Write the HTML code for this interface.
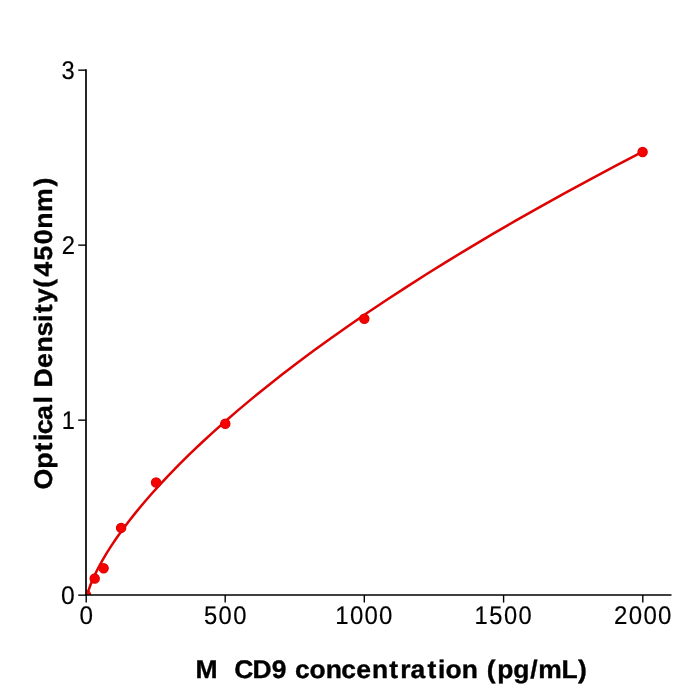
<!DOCTYPE html>
<html lang="en">
<head>
<meta charset="utf-8">
<title>M CD9 standard curve</title>
<style>
  html, body { margin: 0; padding: 0; background: #ffffff; }
  body { width: 700px; height: 700px; overflow: hidden; font-family: "Liberation Sans", sans-serif; }
  svg { display: block; will-change: transform; }
  svg text { font-family: "Liberation Sans", sans-serif; fill: #000000; text-rendering: geometricPrecision; }
  .tick { font-size: 25.5px; stroke: #000000; stroke-width: 0.17px; stroke-linejoin: round; }
  .axlabel { font-size: 25.4px; font-weight: bold; stroke: #000000; stroke-width: 0.36px; stroke-linejoin: round; }
</style>
</head>
<body>
<svg width="700" height="700" viewBox="0 0 700 700">
  <rect x="0" y="0" width="700" height="700" fill="#ffffff"/>
  <defs>
    <clipPath id="plotarea"><rect x="86" y="70" width="584.6" height="525"/></clipPath>
  </defs>
  <g clip-path="url(#plotarea)">
    <path d="M86.00,601.45 L86.13,600.10 L86.59,597.48 L87.44,594.01 L88.71,589.83 L90.43,585.03 L92.62,579.69 L95.29,573.85 L98.46,567.54 L102.14,560.80 L106.35,553.66 L111.10,546.13 L116.40,538.25 L122.25,530.02 L128.67,521.47 L135.66,512.61 L143.24,503.45 L151.41,494.01 L160.17,484.30 L169.54,474.33 L179.52,464.11 L190.12,453.65 L201.34,442.97 L213.18,432.07 L225.67,420.96 L238.79,409.65 L252.56,398.14 L266.98,386.45 L282.06,374.58 L297.79,362.54 L314.19,350.34 L331.26,337.98 L349.00,325.47 L367.42,312.81 L386.53,300.02 L406.32,287.09 L426.80,274.04 L447.97,260.86 L469.84,247.57 L492.42,234.17 L515.70,220.66 L539.69,207.06 L564.39,193.35 L589.80,179.56 L615.94,165.68 L642.80,151.71" fill="none" stroke="#de0202" stroke-width="2.5" stroke-linejoin="round" stroke-linecap="butt"/>
  </g>
  <g clip-path="url(#plotarea)" fill="#f70000" stroke="#de0202" stroke-width="1.3">
    <circle cx="86" cy="595" r="4.6"/>
    <circle cx="94.7" cy="578.6" r="4.6"/>
    <circle cx="103.6" cy="568.3" r="4.6"/>
    <circle cx="121.1" cy="527.9" r="4.6"/>
    <circle cx="156.1" cy="482.5" r="4.6"/>
    <circle cx="225.3" cy="423.7" r="4.6"/>
    <circle cx="364.3" cy="318.7" r="4.6"/>
    <circle cx="642.6" cy="152.0" r="4.6"/>
  </g>
  <g stroke="#000000" stroke-width="1.7" stroke-linecap="butt" fill="none">
    <line x1="86" y1="69.3" x2="86" y2="595.85"/>
    <line x1="85.15" y1="595" x2="671.5" y2="595"/>
  </g>
  <g stroke="#000000" stroke-width="1.4" stroke-linecap="butt" fill="none">
    <line x1="86.2" y1="595" x2="86.2" y2="602.6"/>
    <line x1="225.2" y1="595" x2="225.2" y2="602.6"/>
    <line x1="364.3" y1="595" x2="364.3" y2="602.6"/>
    <line x1="503.6" y1="595" x2="503.6" y2="602.6"/>
    <line x1="642.8" y1="595" x2="642.8" y2="602.6"/>
    <line x1="78.2" y1="595.15" x2="86" y2="595.15"/>
    <line x1="78.2" y1="420.15" x2="86" y2="420.15"/>
    <line x1="78.2" y1="245.15" x2="86" y2="245.15"/>
    <line x1="78.2" y1="70.15" x2="86" y2="70.15"/>
  </g>
  <g class="tick">
    <text transform="translate(80.41,624.0) scale(0.9508,1)" x="-1.00">0</text>
    <text transform="translate(204.90,624.0) scale(0.9331,1)" x="-1.02 14.70 30.32">500</text>
    <text transform="translate(337.06,624.0) scale(0.9409,1)" x="-1.94 13.70 29.20 44.71">1000</text>
    <text transform="translate(476.36,624.0) scale(0.9273,1)" x="-1.94 13.88 29.77 45.57">1500</text>
    <text transform="translate(615.14,624.0) scale(0.9425,1)" x="-1.28 14.53 30.02 45.51">2000</text>
    <text transform="translate(61.91,604.00) scale(0.9673,1)" x="-1.00">0</text>
    <text transform="translate(63.54,429.00) scale(0.9239,1)" x="-1.94">1</text>
    <text transform="translate(62.87,254.00) scale(0.9324,1)" x="-1.28">2</text>
    <text transform="translate(62.47,79.00) scale(0.9290,1)" x="-0.97">3</text>
  </g>
  <g class="axlabel">
    <text xml:space="preserve" style="white-space: pre" transform="translate(196.90,678) scale(1.0424,1)" x="-1.37 24.56 30.70 35.80 53.24 71.72 89.99 94.08 108.05 123.68 138.52 152.98 167.93 184.61 195.10 204.90 221.34 231.32 238.57 254.20 273.75 278.10 288.10 303.60 319.79 327.46 349.67 365.51">M  CD9 concentration (pg/mL)</text>
    <text transform="translate(52,488.30) rotate(-90) scale(1.0511,1)" x="-1.04 18.56 35.10 45.02 51.46 65.06 80.74 91.80 95.91 114.45 129.27 144.52 158.32 166.58 176.25 190.88 201.22 216.79 232.15 247.02 262.86 287.06">Optical Density(450nm)</text>
  </g>
</svg>
</body>
</html>
